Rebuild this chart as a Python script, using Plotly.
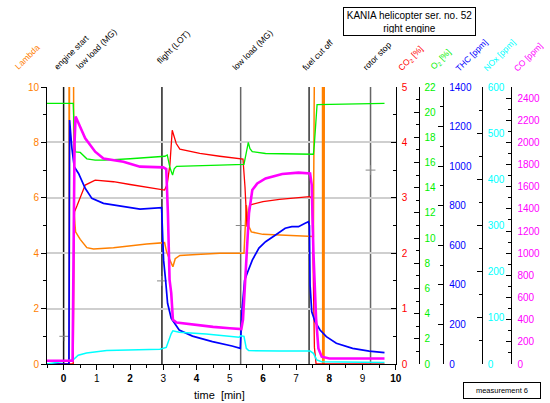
import plotly.graph_objects as go

# ---------------- data ----------------
# Lambda (left axis, 0-10; values above 10 are off scale)
lam_t = [-0.5, 0.16, 0.17, 0.18, 0.29, 0.31, 0.36, 0.50, 0.70, 0.90, 1.50, 2.00, 2.50, 3.04, 3.10,
         3.20, 3.29, 3.36, 3.50, 4.00, 4.70, 5.43, 5.50, 5.58, 5.65, 6.00, 6.50, 7.00, 7.37, 7.52,
         7.57, 7.79, 7.80, 7.81, 7.82, 7.83, 7.84, 7.85, 9.66]
lam_v = [15, 15, 0.0, 15, 15, 5.5, 4.77, 4.5, 4.2, 4.15, 4.2, 4.27, 4.33, 4.38, 4.05,
         3.75, 3.51, 3.8, 3.92, 3.95, 4.0, 4.0, 5.74, 4.96, 4.77, 4.68, 4.65, 4.62, 4.6, 4.6,
         15, 15, 0, 15, 0, 15, 0, 15, 15]

# CO2 [%]
co2_t = [-0.5, 0.29, 0.31, 0.33, 0.40, 0.50, 0.65, 0.95, 1.50, 2.00, 2.50, 3.04, 3.12, 3.20, 3.27,
         3.32, 3.39, 3.50, 4.10, 4.70, 5.40, 5.46, 5.52, 5.60, 6.00, 6.50, 7.00, 7.40, 7.48, 7.55,
         7.60, 9.66]
co2_v = [0, 0, 2.0, 2.75, 2.85, 3.0, 3.23, 3.32, 3.29, 3.24, 3.19, 3.14, 3.25, 3.6, 4.22,
         4.1, 3.98, 3.88, 3.8, 3.75, 3.70, 3.2, 2.48, 2.87, 2.93, 2.97, 3.0, 3.02, 3.0, 0.3,
         0, 0]

# O2 [%]
o2_t = [-0.5, 0.29, 0.33, 0.36, 0.50, 0.70, 0.95, 1.25, 2.00, 2.50, 3.05, 3.12, 3.20, 3.28, 3.33,
        3.40, 4.00, 4.70, 5.43, 5.48, 5.56, 5.61, 5.68, 6.08, 7.00, 7.52, 7.55, 7.60, 7.63, 9.66]
o2_v = [20.7, 20.7, 17.5, 16.85, 16.8, 16.3, 16.2, 16.2, 16.3, 16.4, 16.5, 16.6, 15.6, 15.0, 15.5,
        15.7, 15.72, 15.8, 15.85, 16.6, 17.6, 17.1, 16.86, 16.72, 16.68, 16.66, 17.5, 20.0, 20.6, 20.7]

# THC [ppm]
thc_t = [-0.5, 0.16, 0.18, 0.25, 0.32, 0.45, 0.65, 0.85, 1.20, 1.80, 2.30, 2.95, 3.01, 3.07, 3.13,
         3.24, 3.48, 3.88, 4.48, 5.07, 5.32, 5.37, 5.45, 5.53, 5.68, 5.88, 6.08, 6.38, 6.67, 6.87,
         7.07, 7.27, 7.37, 7.40, 7.42, 7.47, 7.57, 7.72, 7.91, 8.21, 8.70, 9.20, 9.66]
thc_v = [0, 0, 1233, 1090, 997, 963, 888, 837, 812, 795, 783, 790, 525, 424, 307,
         231, 172, 141, 113, 91, 79, 273, 424, 460, 525, 586, 618, 652, 686, 694,
         694, 711, 719, 700, 399, 264, 214, 172, 138, 105, 79, 65, 57]

# NOx [ppm]
nox_t = [-0.5, 0.29, 0.44, 0.69, 1.30, 2.29, 2.90, 3.09, 3.18, 3.24, 3.29, 3.48, 4.29, 5.28, 5.33,
         5.43, 5.50, 5.57, 6.50, 7.42, 7.52, 7.62, 7.77, 9.66]
nox_v = [0, 9, 19, 24, 29, 30, 32, 36, 55, 66, 72, 69, 65, 58, 61,
         60, 34, 29, 28, 28, 23, 9, 5, 3]

# CO [ppm]
co_t = [-0.5, 0.27, 0.33, 0.36, 0.45, 0.65, 0.95, 1.20, 1.80, 2.30, 3.00, 3.09, 3.14, 3.19, 3.24,
        3.29, 3.40, 4.00, 4.50, 5.00, 5.35, 5.40, 5.47, 5.52, 5.58, 5.68, 5.83, 6.08, 6.58, 7.07,
        7.42, 7.47, 7.52, 7.60, 7.67, 7.77, 8.00, 9.66]
co_v = [30, 30, 2000, 2233, 2172, 2037, 1916, 1855, 1826, 1781, 1775, 1760, 1360, 760, 640,
        400, 375, 350, 335, 322, 315, 400, 758, 938, 1360, 1570, 1630, 1675, 1715, 1727,
        1720, 1615, 1013, 412, 141, 66, 50, 50]

# events
event_t = [0.0, 2.96, 5.33, 7.39, 9.24]
event_labels = ["engine start", "low load (MG)", "flight (LOT)", "low load (MG)", "fuel cut off", "rotor stop"]
cross_t = [0.02, 2.96, 5.33, 9.24]
cross_v = [1, 3, 5, 7]

x_ticks = list(range(0, 11))

# ---------------- layout helpers ----------------
W, H = 550, 403
ML, MR, MT, MB = 47, 0, 87, 39
PW, PH = W - ML - MR, H - MT - MB


def pxx(x):
    return (x - ML) / PW


def pxy(y):
    return (H - MB - y) / PH


ORANGE, RED, GREEN, BLUE, CYAN, MAGENTA = "#FF8000", "#FF0000", "#00F000", "#0000FF", "#00FFFF", "#FF00FF"
FONT = "Liberation Sans, Arial, sans-serif"

fig = go.Figure()

fig.add_trace(go.Scatter(x=cross_t, y=cross_v, mode="markers", yaxis="y",
                         marker=dict(symbol="cross-thin", size=7, line=dict(color="#888888", width=1)),
                         showlegend=False, hoverinfo="skip"))
fig.add_trace(go.Scatter(x=lam_t, y=lam_v, mode="lines", yaxis="y",
                         line=dict(color=ORANGE, width=1.5), showlegend=False))
fig.add_trace(go.Scatter(x=co2_t, y=co2_v, mode="lines", yaxis="y2",
                         line=dict(color=RED, width=1.3), showlegend=False))
fig.add_trace(go.Scatter(x=o2_t, y=o2_v, mode="lines", yaxis="y3",
                         line=dict(color=GREEN, width=1.3), showlegend=False))
fig.add_trace(go.Scatter(x=thc_t, y=thc_v, mode="lines", yaxis="y4",
                         line=dict(color=BLUE, width=1.7), showlegend=False))
fig.add_trace(go.Scatter(x=nox_t, y=nox_v, mode="lines", yaxis="y5",
                         line=dict(color=CYAN, width=1.5), showlegend=False))
fig.add_trace(go.Scatter(x=co_t, y=co_v, mode="lines", yaxis="y6",
                         line=dict(color=MAGENTA, width=2.6), showlegend=False))

xdom_end = pxx(400)


def right_axis(rng, dtick, mdtick, color, pos=None):
    d = dict(range=rng, dtick=dtick, tick0=0, overlaying="y", side="right",
             showline=True, linecolor="black", linewidth=1,
             ticks="inside", ticklen=5, tickcolor="black", tickwidth=1,
             minor=dict(dtick=mdtick, ticks="inside", ticklen=3, tickcolor="black", showgrid=False),
             tickfont=dict(color=color, size=10, family=FONT),
             showgrid=False, zeroline=False, ticklabelstandoff=3, fixedrange=True)
    if pos is None:
        d["anchor"] = "x"
    else:
        d["anchor"] = "free"
        d["position"] = pos
    return d


bold_alias = {str(v): "<b>%d</b>" % v for v in x_ticks if v % 2 == 0}

fig.update_layout(
    width=W, height=H, autosize=False,
    margin=dict(l=ML, r=MR, t=MT, b=MB, pad=0),
    paper_bgcolor="white", plot_bgcolor="white",
    font=dict(family=FONT, size=10, color="black"),
    showlegend=False,
    xaxis=dict(domain=[0, xdom_end], range=[-0.5, 10], tick0=0, dtick=1,
               labelalias=bold_alias,
               showline=True, linecolor="black", linewidth=1,
               ticks="outside", ticklen=5, tickcolor="black",
               minor=dict(dtick=0.5, ticks="outside", ticklen=3, tickcolor="black", showgrid=False),
               tickfont=dict(size=10, color="black", family=FONT),
               showgrid=False, zeroline=False),
    yaxis=dict(range=[0, 10], dtick=2, tick0=0,
               showline=True, linecolor="black", linewidth=1,
               ticks="outside", ticklen=5, tickcolor="black",
               minor=dict(dtick=1, ticks="outside", ticklen=3, tickcolor="black", showgrid=False),
               tickfont=dict(color=ORANGE, size=10, family=FONT),
               showgrid=True, gridcolor="#cfcfcf", gridwidth=1.5, zeroline=False),
    yaxis2=right_axis([0, 5], 1, 0.5, RED),
    yaxis3=right_axis([0, 22], 2, 1, GREEN, pxx(423)),
    yaxis4=right_axis([0, 1400], 200, 100, BLUE, pxx(448)),
    yaxis5=right_axis([0, 600], 100, 50, CYAN, pxx(487)),
    yaxis6=right_axis([0, 2500], 200, 100, MAGENTA, pxx(517)),
)

# event lines
event_colors = ["#111111", "#222222", "#666666", "#333333", "#666666"]
for t, c in zip(event_t, event_colors):
    fig.add_shape(type="line", xref="x", yref="paper", x0=t, x1=t, y0=0, y1=1,
                  line=dict(color=c, width=1.5), layer="below")

annotations = []
# event labels (rotated)
label_centers = [(72, 52), (97, 49), (175, 47), (255, 50), (321, 55), (381, 56)]
for txt, (cx, cy) in zip(event_labels, label_centers):
    annotations.append(dict(text=txt, xref="paper", yref="paper", x=pxx(cx), y=pxy(cy),
                            xanchor="center", yanchor="middle", textangle=-45, showarrow=False,
                            font=dict(size=8.5, color="black", family=FONT)))

axis_titles = [("Lambda", ORANGE, (27, 57)),
               ("CO<sub>2</sub> [%]", RED, (415, 58)),
               ("O<sub>2</sub> [%]", GREEN, (446, 60)),
               ("THC [ppm]", BLUE, (477, 55)),
               ("NOx [ppm]", CYAN, (505, 55)),
               ("CO [ppm]", MAGENTA, (534, 57))]
for txt, col, (cx, cy) in axis_titles:
    annotations.append(dict(text=txt, xref="paper", yref="paper", x=pxx(cx), y=pxy(cy),
                            xanchor="center", yanchor="middle", textangle=-45, showarrow=False,
                            font=dict(size=8.5, color=col, family=FONT)))

# title box
annotations.append(dict(text="KANIA helicopter ser. no. 52<br>right engine", xref="paper", yref="paper",
                        x=pxx(413.5), y=pxy(21.5), xanchor="center", yanchor="middle", showarrow=False,
                        bordercolor="black", borderwidth=1, borderpad=2, bgcolor="white",
                        width=127, height=23, align="center",
                        font=dict(size=10, color="black", family=FONT)))
# measurement box
annotations.append(dict(text="measurement 6", xref="paper", yref="paper",
                        x=pxx(507), y=pxy(390.5), xanchor="center", yanchor="middle", showarrow=False,
                        bordercolor="black", borderwidth=1, borderpad=1, bgcolor="white",
                        width=74, height=13, align="center",
                        font=dict(size=7.5, color="black", family=FONT)))
# x-axis title
annotations.append(dict(text="time\u00a0\u00a0[min]", xref="paper", yref="paper",
                        x=pxx(222), y=pxy(395), xanchor="center", yanchor="middle", showarrow=False,
                        font=dict(size=11, color="black", family=FONT)))

fig.update_layout(annotations=annotations)

fig.write_html("out.html", config={"displayModeBar": False},
               post_script="document.body.style.margin='0px';document.body.style.padding='0px';")
